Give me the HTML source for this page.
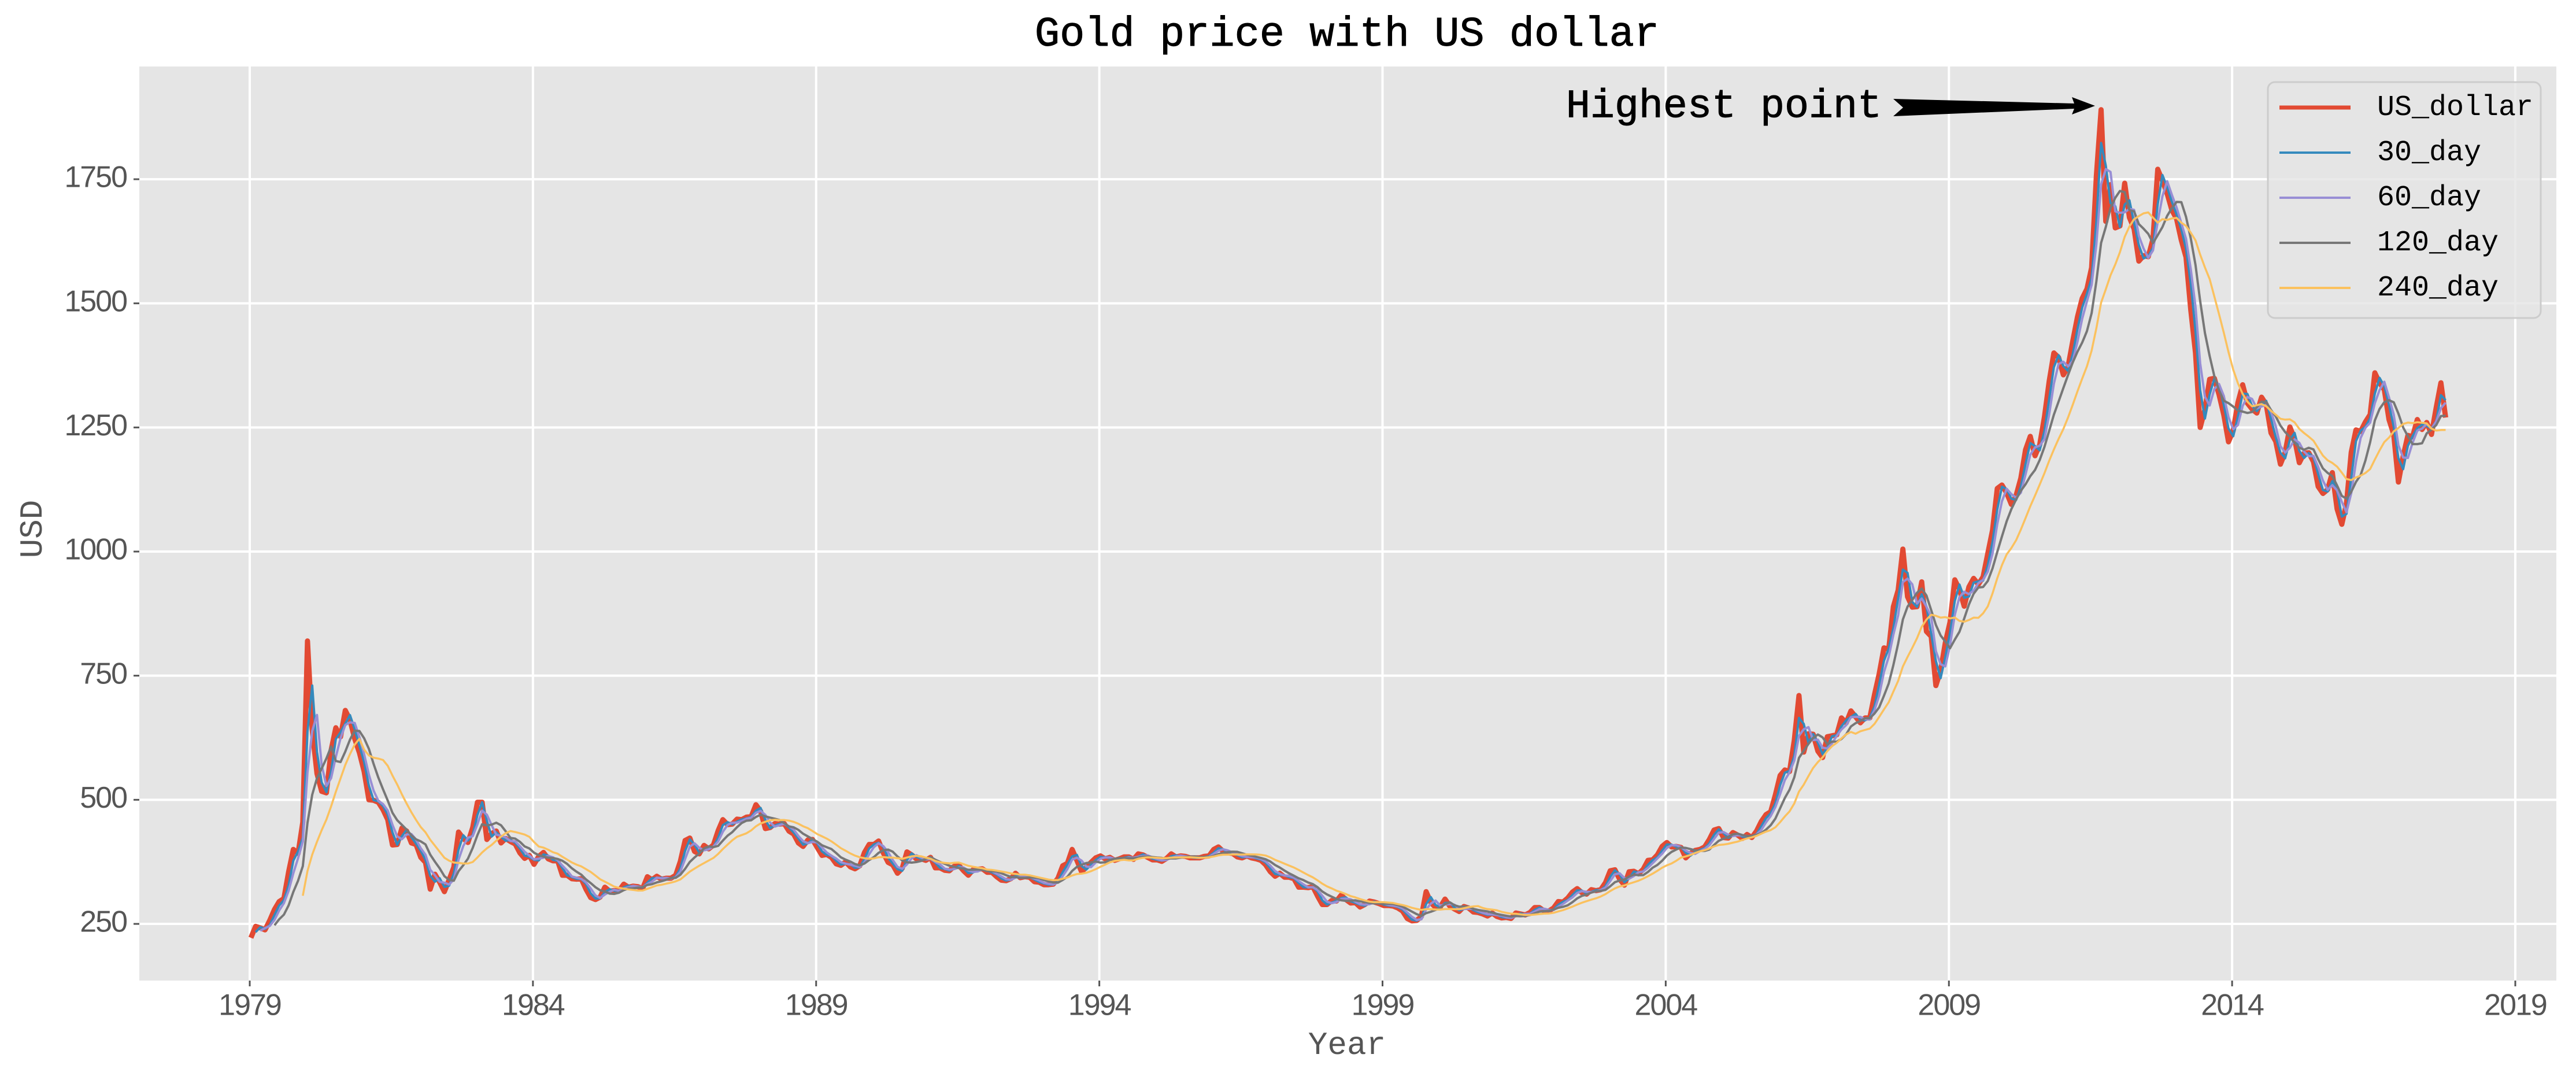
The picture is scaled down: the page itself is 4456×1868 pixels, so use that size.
<!DOCTYPE html>
<html><head><meta charset="utf-8">
<style>
html,body{margin:0;padding:0;background:#fff;}
svg{display:block;}
</style></head>
<body>
<svg id="chart" width="4456" height="1868" viewBox="0 0 4456 1868" xmlns="http://www.w3.org/2000/svg">
<rect x="0" y="0" width="4456" height="1868" fill="#ffffff"/>
<rect x="241" y="115" width="4181" height="1581" fill="#e5e5e5"/>
<g id="grid"></g>
<g id="ticks"></g>
<g id="series"></g>
<text x="2330" y="60" font-family="Liberation Mono, monospace" font-size="72" fill="#000" text-anchor="middle" dominant-baseline="middle" stroke="#000" stroke-width="1">Gold price with US dollar</text>
<text x="2330" y="1808" font-family="Liberation Mono, monospace" font-size="56" fill="#555" text-anchor="middle" dominant-baseline="middle">Year</text>
<text x="57" y="915" font-family="Liberation Mono, monospace" font-size="56" fill="#555" text-anchor="middle" dominant-baseline="middle" transform="rotate(-90 57 915)">USD</text>
<g>
<text x="3255" y="184" font-family="Liberation Mono, monospace" font-size="70" fill="#000" text-anchor="end" dominant-baseline="middle" stroke="#000" stroke-width="1">Highest point</text>
<polygon points="3275,171 3588,179 3584,168 3624,183 3584,198 3588,188 3275,201 3292,186" fill="#000"/>
</g>
<g id="legend">
<rect x="3923" y="142" width="472" height="408" rx="12" fill="#e5e5e5" fill-opacity="0.8" stroke="#cccccc" stroke-width="3"/>
</g>
</svg>
<script>
const years = [1979,1980,1981,1982,1983,1984,1985,1986,1987,1988,1989,1990,1991,1992,1993,1994,1995,1996,1997,1998,1999,2000,2001,2002,2003,2004,2005,2006,2007,2008,2009,2010,2011,2012,2013,2014,2015,2016,2017];
const monthlyPrices = [
[222,245,242,238,257,279,295,301,355,400,392,455],
[820,640,553,517,514,600,645,627,680,661,623,595],
[557,500,499,495,480,460,409,410,443,437,413,410],
[384,374,320,350,334,315,339,364,435,422,414,444],
[495,495,420,432,437,413,422,416,411,393,382,388],
[370,386,394,381,377,377,348,348,341,340,341,320],
[303,299,304,324,316,317,317,330,324,326,325,321],
[345,339,346,340,342,342,348,376,418,423,396,391],
[408,401,409,438,460,450,451,461,460,465,466,490],
[477,442,444,452,451,452,437,431,413,406,419,420],
[404,388,390,384,371,368,375,365,361,367,394,410],
[410,417,393,374,369,352,362,395,389,381,381,378],
[384,363,363,358,357,366,368,357,348,359,360,361],
[354,354,345,338,337,341,352,343,345,344,335,334],
[329,329,330,342,367,372,400,378,355,364,374,383],
[387,381,384,378,381,385,385,380,391,389,384,379],
[379,376,382,391,385,387,386,383,383,383,386,387],
[400,405,396,393,392,385,383,387,383,381,378,369],
[355,346,352,344,344,341,324,324,323,325,306,289],
[289,297,296,308,299,292,293,284,289,296,294,291],
[287,287,286,282,276,261,256,257,265,315,293,283],
[284,300,286,280,275,285,282,274,273,270,266,272],
[265,262,263,261,272,270,268,273,283,283,276,276],
[282,295,294,302,314,321,313,310,319,317,319,333],
[357,359,340,328,355,356,351,360,378,379,389,406],
[414,405,406,404,383,392,398,400,405,420,439,442],
[424,423,434,429,422,430,424,437,456,470,476,510],
[549,560,557,620,710,596,633,632,598,585,627,629],
[631,665,655,679,667,655,665,665,712,754,806,803],
[889,922,1005,909,888,889,939,839,829,730,760,816],
[858,943,924,890,929,946,934,949,996,1043,1127,1134],
[1118,1095,1113,1148,1205,1232,1193,1215,1271,1343,1400,1391],
[1356,1372,1424,1473,1510,1529,1572,1756,1890,1665,1739,1652],
[1656,1742,1673,1650,1585,1596,1594,1630,1770,1747,1721,1688],
[1670,1627,1593,1487,1400,1250,1286,1347,1349,1316,1275,1221],
[1244,1300,1336,1299,1287,1279,1311,1296,1239,1222,1176,1200],
[1251,1227,1179,1198,1199,1181,1131,1117,1125,1159,1086,1055],
[1097,1200,1245,1242,1261,1276,1360,1340,1326,1266,1236,1140],
[1192,1234,1231,1266,1246,1260,1236,1290,1340,1270]
];
const maWindows = [2,3,6,12];
const seriesNames = ["US_dollar","30_day","60_day","120_day","240_day"];
const seriesColors = ["#E24A33","#348ABD","#988ED5","#777777","#FBC15E"];
const seriesWidths = [9,4,4,4,3.5];
const yTicks = [250,500,750,1000,1250,1500,1750];
const xTicks = [1979,1984,1989,1994,1999,2004,2009,2014,2019];

const NS = "http://www.w3.org/2000/svg";
const PL = 241, PR = 4422, PT = 115, PB = 1696;
function xScale(t){ return 432 + (t - 1979) * (4351 - 432) / 40; }
function yScale(v){ return 1598 - (v - 250) * (1598 - 310) / 1500; }
function mk(tag, attrs, parent){ const e = document.createElementNS(NS, tag); for (const k in attrs) e.setAttribute(k, attrs[k]); parent.appendChild(e); return e; }

const grid = document.getElementById('grid');
const ticks = document.getElementById('ticks');
yTicks.forEach(v => {
  const y = yScale(v);
  const gl = mk('line', {x1:PL, x2:PR, y1:y, y2:y, stroke:'#fff', 'stroke-width':4}, grid);
  
  
  mk('line', {x1:PL-10, x2:PL, y1:y, y2:y, stroke:'#555', 'stroke-width':3}, ticks);
  const t = mk('text', {x:PL-22, y:y, 'font-family':'Liberation Sans, sans-serif', 'font-size':52, fill:'#555', 'text-anchor':'end', 'dominant-baseline':'middle', 'letter-spacing':'-2'}, ticks);
  t.textContent = v;
  
  
});
xTicks.forEach(yr => {
  const x = xScale(yr);
  const gl = mk('line', {x1:x, x2:x, y1:PT, y2:PB, stroke:'#fff', 'stroke-width':4}, grid);
  
  
  mk('line', {x1:x, x2:x, y1:PB, y2:PB+10, stroke:'#555', 'stroke-width':3}, ticks);
  const t = mk('text', {x:x, y:1742, 'font-family':'Liberation Sans, sans-serif', 'font-size':52, fill:'#555', 'text-anchor':'middle', 'dominant-baseline':'middle', 'letter-spacing':'-2'}, ticks);
  t.textContent = yr;
  
  
});

const pts = [];
years.forEach((yr, yi) => monthlyPrices[yi].forEach((v, m) => pts.push({t: yr + m/12 + 0.02, v: v})));
function rolling(w){
  const out = [];
  for (let i = w - 1; i < pts.length; i++){
    let s = 0; for (let j = i - w + 1; j <= i; j++) s += pts[j].v;
    out.push({t: pts[i].t, v: s / w});
  }
  return out;
}
const allSeries = [pts].concat(maWindows.map(rolling));
const sg = document.getElementById('series');
allSeries.forEach((arr, k) => {
  const d = arr.map((p, i) => (i ? 'L' : 'M') + xScale(p.t).toFixed(1) + ',' + yScale(p.v).toFixed(1)).join(' ');
  const path = mk('path', {d:d, fill:'none', stroke:seriesColors[k], 'stroke-width':seriesWidths[k], 'stroke-linejoin':'round'}, sg);
  
  
});

const lg = document.getElementById('legend');
seriesNames.forEach((n, k) => {
  const y = 186 + k * 78;
  const ln = mk('line', {x1:3943, x2:4066, y1:y, y2:y, stroke:seriesColors[k], 'stroke-width':k ? 4 : 7}, lg);
  
  
  const t = mk('text', {x:4112, y:y, 'font-family':'Liberation Mono, monospace', 'font-size':50, fill:'#000', 'dominant-baseline':'middle'}, lg);
  t.textContent = n;
  
  
});
</script>
</body></html>
